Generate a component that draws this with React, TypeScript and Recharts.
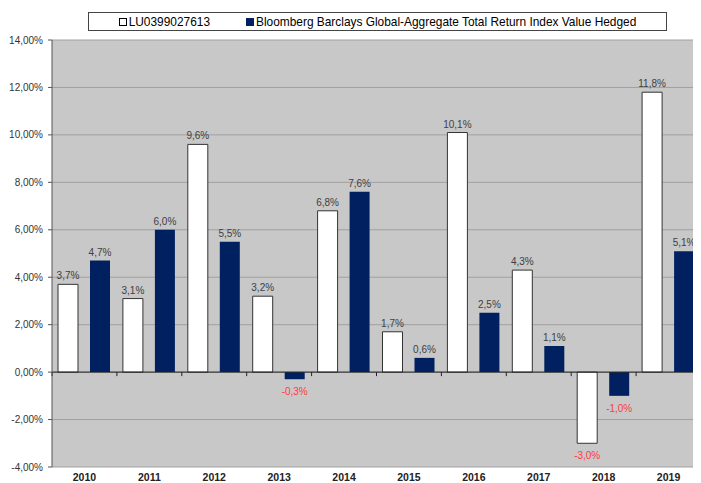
import React from "react";
import { BarChart, Bar, XAxis, YAxis, CartesianGrid, ReferenceLine, LabelList, Legend } from "recharts";

const years = ["2010", "2011", "2012", "2013", "2014", "2015", "2016", "2017", "2018", "2019"];
const fundValues = [3.7, 3.1, 9.6, 3.2, 6.8, 1.7, 10.1, 4.3, -3.0, 11.8];
const indexValues = [4.7, 6.0, 5.5, -0.3, 7.6, 0.6, 2.5, 1.1, -1.0, 5.1];
const yTicks = [-4, -2, 0, 2, 4, 6, 8, 10, 12, 14];
const fundName = "LU0399027613";
const indexName = "Bloomberg Barclays Global-Aggregate Total Return Index Value Hedged";

const data = years.map((y, i) => ({ year: y, fund: fundValues[i], index: indexValues[i] }));

const NAVY = "#01205f";
const FONT = "'Liberation Sans', Arial, sans-serif";

const fmtTick = (v: number) => v.toFixed(2).replace(".", ",") + "%";
const fmtLabel = (v: number) => v.toFixed(1).replace(".", ",") + "%";

const renderLabel = (props: any) => {
  const { x, y, width, height, value } = props;
  const top = Math.min(y, y + height);
  const bottom = Math.max(y, y + height);
  const cx = x + width / 2;
  const neg = value < 0;
  return (
    <text
      x={cx}
      y={neg ? bottom + 16 : top - 5}
      textAnchor="middle"
      fontSize={10}
      fontFamily={FONT}
      fill={neg ? "#ff3b3b" : "#404040"}
    >
      {fmtLabel(value)}
    </text>
  );
};

const ZeroLine = (props: any) => {
  const { x1, y1, x2, y2 } = props;
  const n = years.length;
  const step = (x2 - x1) / n;
  const ticks = [];
  for (let i = 0; i <= n; i++) {
    const tx = x1 + i * step;
    ticks.push(<line key={i} x1={tx} x2={tx} y1={y1} y2={y1 + 4} stroke="#222" strokeWidth={1} />);
  }
  return (
    <g>
      <line x1={x1} y1={y1} x2={x2} y2={y2} stroke="#222" strokeWidth={1} />
      {ticks}
    </g>
  );
};

const LegendContent = () => (
  <div
    style={{
      width: 577,
      height: 17,
      border: "1px solid #444",
      background: "#fff",
      fontFamily: FONT,
      fontSize: 11.9,
      color: "#000",
      display: "flex",
      alignItems: "center",
      justifyContent: "center",
      boxSizing: "content-box",
      whiteSpace: "nowrap",
    }}
  >
    <span style={{ display: "inline-block", width: 6, height: 6, border: "1px solid #000", background: "#fff", marginRight: 2 }} />
    <span style={{ marginRight: 36 }}>{fundName}</span>
    <span style={{ display: "inline-block", width: 8, height: 8, background: NAVY, marginRight: 2 }} />
    <span>{indexName}</span>
  </div>
);

export default function App() {
  return (
    <div style={{ width: 693, height: 475, fontFamily: FONT }}>
      <BarChart
        width={693}
        height={475}
        data={data}
        margin={{ top: 32, right: 0, left: 0, bottom: 0 }}
        barCategoryGap={6}
        barGap={12}
      >
        <CartesianGrid vertical={false} stroke="#a0a0a0" strokeWidth={1} fill="#c8c8c8" />
        <XAxis
          dataKey="year"
          axisLine={false}
          tickLine={false}
          height={16}
          tickMargin={1}
          interval={0}
          tick={{ fontSize: 10.5, fontWeight: "bold", fill: "#222", fontFamily: FONT }}
        />
        <YAxis
          domain={[-4, 14]}
          ticks={yTicks}
          width={44}
          tickFormatter={fmtTick}
          axisLine={{ stroke: "#555" }}
          tickLine={{ stroke: "#555" }}
          tickSize={4}
          tickMargin={5}
          tick={{ fontSize: 10, fill: "#333", fontFamily: FONT }}
          allowDataOverflow
        />
        <Legend
          verticalAlign="middle"
          align="center"
          wrapperStyle={{ top: 4, left: 80, width: 579, height: 19 }}
          content={<LegendContent />}
        />
        <Bar dataKey="fund" name={fundName} fill="#ffffff" stroke="#333" strokeWidth={1} isAnimationActive={false}>
          <LabelList dataKey="fund" content={renderLabel} />
        </Bar>
        <Bar dataKey="index" name={indexName} fill={NAVY} isAnimationActive={false}>
          <LabelList dataKey="index" content={renderLabel} />
        </Bar>
        <ReferenceLine y={0} shape={<ZeroLine />} ifOverflow="extendDomain" />
      </BarChart>
    </div>
  );
}
